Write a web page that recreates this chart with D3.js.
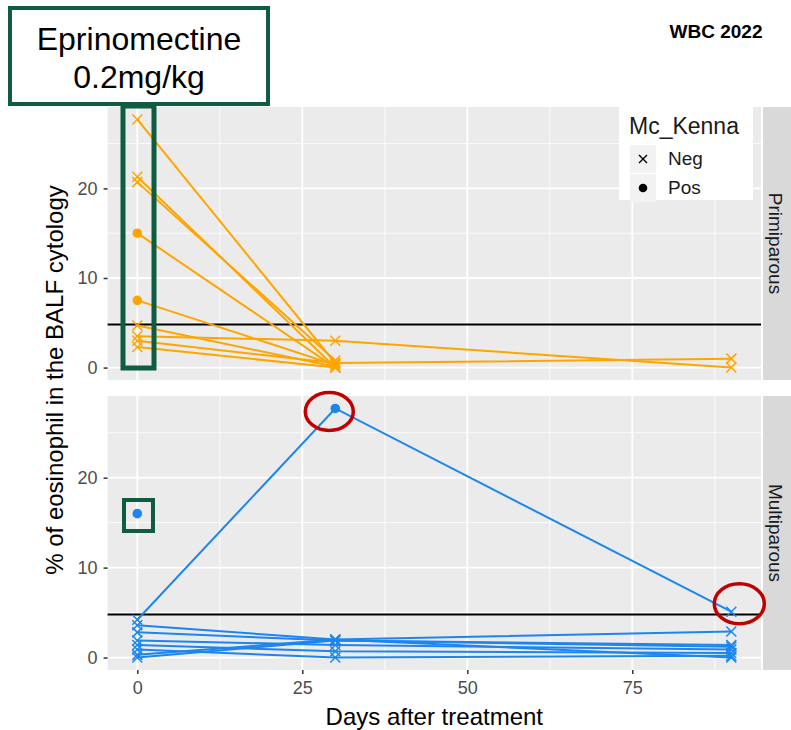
<!DOCTYPE html>
<html>
<head>
<meta charset="utf-8">
<script src="https://cdn.jsdelivr.net/npm/d3@7"></script>
<style>
  body { margin: 0; background: #fff; }
  text { font-family: "Liberation Sans", Arial, sans-serif; }
</style>
</head>
<body>
<div id="chart"></div>
<script>
// sampling days
var days = [0, 30, 90];

// Primiparous: one row per cow, value at each day (null = not sampled)
var primiValues = [
  [27.7, 0.5, null],
  [21.3, 0.0, null],
  [20.7, 0.8, null],
  [15.0, 0.0, null],
  [7.5, 0.3, null],
  [4.7, 0.1, null],
  [3.5, 3.0, 0.0],
  [3.0, 0.5, 1.0],
  [2.3, 0.0, null]
];
var primiStatus = [
  ["Neg", "Neg", null],
  ["Neg", "Neg", null],
  ["Neg", "Neg", null],
  ["Pos", "Neg", null],
  ["Pos", "Neg", null],
  ["Neg", "Neg", null],
  ["Neg", "Neg", "Neg"],
  ["Neg", "Neg", "Neg"],
  ["Neg", "Neg", null]
];

// Multiparous
var multiValues = [
  [4.2, 27.7, 5.1],
  [16.0, null, null],
  [3.6, 2.0, 2.9],
  [2.8, 1.9, 1.4],
  [1.9, 1.4, 0.9],
  [1.4, 0.7, 0.5],
  [0.9, 0.0, 0.2],
  [0.3, 2.0, 0.0],
  [0.0, 1.9, 1.2]
];
var multiStatus = [
  ["Neg", "Pos", "Neg"],
  ["Pos", null, null],
  ["Neg", "Neg", "Neg"],
  ["Neg", "Neg", "Neg"],
  ["Neg", "Neg", "Neg"],
  ["Neg", "Neg", "Neg"],
  ["Neg", "Neg", "Neg"],
  ["Neg", "Neg", "Neg"],
  ["Neg", "Neg", "Neg"]
];

var xTicks = [0, 25, 50, 75];
var yTicks = [0, 10, 20];
var threshold = 4.8;
var legendKeys = ["Neg", "Pos"];

var w = 791, h = 730;
var svg = d3.select("#chart").append("svg")
  .attr("width", w).attr("height", h);

var left = 107.6, right = 761;
var xScale = d3.scaleLinear().domain([-4.5, 94.5]).range([left, right]);

var panels = [
  { name: "Primiparous", values: primiValues, status: primiStatus, color: "#FFA500", top: 107, bottom: 380 },
  { name: "Multiparous", values: multiValues, status: multiStatus, color: "#1C86EE", top: 396, bottom: 670 }
];

panels.forEach(function(p) {
  var yScale = d3.scaleLinear().domain([-1.385, 29.085]).range([p.bottom, p.top]);
  var g = svg.append("g");

  g.append("rect")
    .attr("x", left).attr("y", p.top)
    .attr("width", right - left).attr("height", p.bottom - p.top)
    .attr("fill", "#EBEBEB");

  // minor grid
  [5, 15, 25].forEach(function(v) {
    g.append("line").attr("x1", left).attr("x2", right)
      .attr("y1", yScale(v)).attr("y2", yScale(v))
      .attr("stroke", "#fff").attr("stroke-width", 0.8);
  });
  [12.5, 37.5, 62.5, 87.5].forEach(function(v) {
    g.append("line").attr("y1", p.top).attr("y2", p.bottom)
      .attr("x1", xScale(v)).attr("x2", xScale(v))
      .attr("stroke", "#fff").attr("stroke-width", 0.8);
  });
  // major grid
  yTicks.forEach(function(v) {
    g.append("line").attr("x1", left).attr("x2", right)
      .attr("y1", yScale(v)).attr("y2", yScale(v))
      .attr("stroke", "#fff").attr("stroke-width", 1.8);
  });
  xTicks.forEach(function(v) {
    g.append("line").attr("y1", p.top).attr("y2", p.bottom)
      .attr("x1", xScale(v)).attr("x2", xScale(v))
      .attr("stroke", "#fff").attr("stroke-width", 1.8);
  });

  // y axis
  var yAxis = g.append("g")
    .attr("transform", "translate(" + left + ",0)")
    .call(d3.axisLeft(yScale).tickValues(yTicks).tickSize(4).tickPadding(6));
  yAxis.select(".domain").remove();
  yAxis.selectAll("line").attr("stroke", "#333").attr("stroke-width", 1.5);
  yAxis.selectAll("text").attr("fill", "#4D4D4D").style("font-size", "18px");

  // strip
  g.append("rect")
    .attr("x", 763).attr("y", p.top)
    .attr("width", 28).attr("height", p.bottom - p.top)
    .attr("fill", "#D9D9D9");
  g.append("text")
    .attr("transform", "translate(769," + ((p.top + p.bottom) / 2) + ") rotate(90)")
    .attr("text-anchor", "middle")
    .style("font-size", "19px")
    .attr("fill", "#1A1A1A")
    .text(p.name);

  // threshold line
  g.append("line").attr("x1", left).attr("x2", right)
    .attr("y1", yScale(threshold)).attr("y2", yScale(threshold))
    .attr("stroke", "#000").attr("stroke-width", 2);

  // lines per cow
  var line = d3.line()
    .x(function(d) { return xScale(d.day); })
    .y(function(d) { return yScale(d.v); });

  var rows = p.values.map(function(r, i) {
    return r.map(function(v, j) { return { day: days[j], v: v, s: p.status[i][j] }; });
  });

  g.selectAll("path.cow").data(rows).enter().append("path")
    .attr("class", "cow")
    .attr("d", function(r) { return line(r.filter(function(d) { return d.v !== null; })); })
    .attr("fill", "none")
    .attr("stroke", p.color)
    .attr("stroke-width", 2);

  var pts = [];
  rows.forEach(function(r) { r.forEach(function(d) { if (d.v !== null) pts.push(d); }); });

  g.selectAll("circle.pos").data(pts.filter(function(d) { return d.s === "Pos"; }))
    .enter().append("circle")
    .attr("cx", function(d) { return xScale(d.day); })
    .attr("cy", function(d) { return yScale(d.v); })
    .attr("r", 4.8)
    .attr("fill", p.color);

  g.selectAll("path.neg").data(pts.filter(function(d) { return d.s === "Neg"; }))
    .enter().append("path")
    .attr("d", "M-5,-5L5,5M-5,5L5,-5")
    .attr("transform", function(d) { return "translate(" + xScale(d.day) + "," + yScale(d.v) + ")"; })
    .attr("stroke", p.color)
    .attr("stroke-width", 1.5)
    .attr("fill", "none");

  p.yScale = yScale;
});

// x axis at bottom
var xAxis = svg.append("g")
  .attr("transform", "translate(0," + panels[1].bottom + ")")
  .call(d3.axisBottom(xScale).tickValues(xTicks).tickSize(4).tickPadding(7));
xAxis.select(".domain").remove();
xAxis.selectAll("line").attr("stroke", "#333").attr("stroke-width", 1.5);
xAxis.selectAll("text").attr("fill", "#4D4D4D").style("font-size", "18px");

// axis titles
svg.append("text")
  .attr("x", xScale(45)).attr("y", 725)
  .attr("text-anchor", "middle")
  .style("font-size", "24px")
  .text("Days after treatment");

svg.append("text")
  .attr("transform", "translate(63,380) rotate(-90)")
  .attr("text-anchor", "middle")
  .style("font-size", "24px")
  .text("% of eosinophil in the BALF cytology");

// legend
var lg = svg.append("g");
lg.append("rect").attr("x", 619).attr("y", 103).attr("width", 134).attr("height", 97).attr("fill", "#fff");
lg.append("text").attr("x", 629).attr("y", 134).style("font-size", "23px").attr("fill", "#1A1A1A").text("Mc_Kenna");
legendKeys.forEach(function(k, i) {
  var cy = 159 + i * 29;
  lg.append("rect").attr("x", 630).attr("y", cy - 14).attr("width", 26).attr("height", 28).attr("fill", "#F2F2F2");
  if (k === "Neg") {
    lg.append("path").attr("d", "M-4,-4L4,4M-4,4L4,-4")
      .attr("transform", "translate(643," + cy + ")")
      .attr("stroke", "#000").attr("stroke-width", 1.4);
  } else {
    lg.append("circle").attr("cx", 643).attr("cy", cy).attr("r", 4.3).attr("fill", "#000");
  }
  lg.append("text").attr("x", 668).attr("y", cy + 6).style("font-size", "19px").attr("fill", "#1A1A1A").text(k);
});

// annotations
var green = "#0E5C41";
svg.append("rect").attr("x", 123).attr("y", 106).attr("width", 31).attr("height", 262)
  .attr("fill", "none").attr("stroke", green).attr("stroke-width", 5);
svg.append("rect").attr("x", 124).attr("y", 500).attr("width", 29).attr("height", 31)
  .attr("fill", "none").attr("stroke", green).attr("stroke-width", 4);
svg.append("rect").attr("x", 10).attr("y", 8).attr("width", 258).attr("height", 96)
  .attr("fill", "#fff").attr("stroke", green).attr("stroke-width", 4);
svg.append("text").attr("x", 139).attr("y", 50).attr("text-anchor", "middle")
  .style("font-size", "32px").text("Eprinomectine");
svg.append("text").attr("x", 139).attr("y", 88).attr("text-anchor", "middle")
  .style("font-size", "32px").text("0.2mg/kg");

svg.append("text").attr("x", 716).attr("y", 38).attr("text-anchor", "middle")
  .style("font-size", "19px").style("font-weight", "bold").text("WBC 2022");

// red circles around the positive cow
var red = "#C00000";
svg.append("ellipse")
  .attr("cx", xScale(days[1]) - 6).attr("cy", panels[1].yScale(27.7) + 3)
  .attr("rx", 24).attr("ry", 19)
  .attr("fill", "none").attr("stroke", red).attr("stroke-width", 3.5);
svg.append("ellipse")
  .attr("cx", xScale(days[2]) + 8).attr("cy", panels[1].yScale(5.1) - 8)
  .attr("rx", 25).attr("ry", 20)
  .attr("fill", "none").attr("stroke", red).attr("stroke-width", 3.5);
</script>
</body>
</html>
